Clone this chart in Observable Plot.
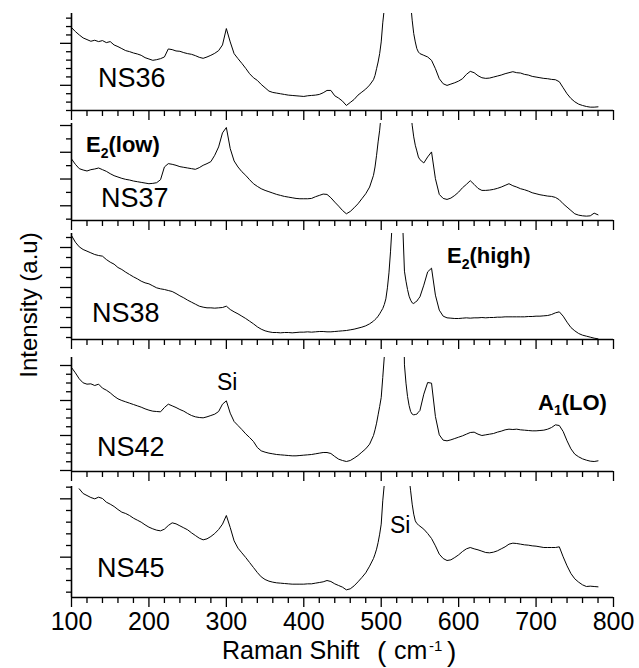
<!DOCTYPE html>
<html>
<head>
<meta charset="utf-8">
<script src="https://cdn.jsdelivr.net/npm/d3@7"></script>
<script src="https://cdn.jsdelivr.net/npm/@observablehq/plot@0.6"></script>
<style>
  html, body { margin: 0; padding: 0; background: #fff; }
  #chart { position: relative; width: 639px; height: 668px; overflow: hidden; }
  #chart svg { position: absolute; left: 0; }
</style>
</head>
<body>
<div id="chart"></div>
<script>
// Raman shift sampling (cm^-1): coarse over the background, finer across the Si line at 520.
const shift = [...d3.range(100, 491, 5), ...d3.range(492, 549, 2), ...d3.range(550, 781, 5)];

// Intensities (arbitrary units), one array per sample, on the shift grid above.
const ns36 = [
  248, 236, 226, 217, 212, 207, 210, 206, 209, 203,
  206, 196, 191, 185, 179, 176, 172, 169, 165, 158,
  154, 150, 152, 155, 160, 184, 182, 178, 177, 173,
  170, 168, 164, 159, 156, 160, 165, 171, 179, 196,
  245, 205, 170, 155, 141, 126, 110, 98, 90, 78,
  68, 58, 54, 52, 50, 48, 46, 45, 44, 43,
  42, 44, 45, 46, 48, 53, 60, 60, 44, 37,
  28, 15, 24, 33, 46, 55, 64, 76, 92,
  105, 125, 145, 170, 205, 262, 305, 420, 540, 700,
  900, 1150, 1400, 1600, 1700, 1650, 1450, 1200, 950, 750,
  600, 480, 390, 320, 270, 230, 205, 185, 175,
  170, 165, 160, 150, 125, 95, 80, 75, 79, 83,
  88, 95, 108, 117, 113, 104, 98, 96, 97, 100,
  103, 106, 110, 113, 116, 113, 112, 108, 106, 102,
  100, 98, 96, 95, 93, 92, 86, 68, 50, 36,
  26, 19, 15, 12, 10, 10, 11
];
const ns37 = [
  184, 168, 155, 151, 148, 152, 154, 157, 152, 147,
  140, 134, 130, 126, 123, 121, 118, 116, 114, 112,
  110, 111, 113, 122, 160, 170, 168, 165, 161, 159,
  157, 155, 153, 158, 165, 170, 176, 195, 220, 262,
  278, 215, 178, 160, 146, 135, 122, 110, 102, 95,
  90, 86, 82, 78, 75, 72, 70, 68, 66, 65,
  65, 65, 66, 71, 75, 79, 78, 68, 55, 43,
  30, 20, 27, 38, 50, 65, 80, 100, 135,
  160, 195, 235, 270, 320, 400, 500, 640, 800, 1000,
  1200, 1400, 1550, 1650, 1700, 1650, 1500, 1300, 1050, 850,
  650, 500, 390, 330, 285, 250, 225, 208, 190,
  182, 172, 190, 205, 125, 78, 66, 63, 67, 75,
  85, 98, 108, 119, 108, 96, 90, 90, 91, 93,
  96, 100, 105, 110, 104, 100, 95, 92, 88, 83,
  80, 77, 75, 73, 72, 69, 62, 50, 40, 30,
  20, 16, 14, 13, 14, 22, 17
];
const ns38 = [
  312, 292, 278, 270, 265, 260, 255, 252, 250, 240,
  232, 226, 216, 210, 202, 195, 188, 182, 175, 170,
  167, 161, 155, 152, 150, 147, 144, 138, 131, 125,
  118, 112, 106, 100, 97, 95, 95, 94, 95, 96,
  100, 90, 83, 77, 70, 63, 55, 47, 38, 31,
  26, 23, 21, 21, 20, 21, 21, 20, 21, 22,
  22, 23, 22, 23, 24, 24, 23, 23, 24, 25,
  26, 27, 29, 31, 34, 37, 41, 47, 55,
  60, 64, 70, 77, 85, 93, 105, 122, 155, 200,
  263, 340, 600, 1000, 1400, 1500, 1100, 600, 330, 205,
  175, 150, 130, 118, 110, 108, 112, 115, 122,
  128, 163, 203, 214, 133, 88, 70, 65, 64, 63,
  63, 64, 65, 64, 65, 65, 66, 65, 66, 66,
  67, 67, 68, 68, 68, 68, 68, 68, 69, 69,
  70, 70, 71, 72, 75, 80, 83, 70, 52, 36,
  26, 18, 13, 10, 7, 4, 2
];
const ns42 = [
  312, 296, 278, 266, 262, 263, 258, 262, 250, 244,
  236, 226, 218, 213, 209, 205, 201, 197, 193, 188,
  184, 181, 180, 179, 192, 202, 197, 192, 186, 181,
  174, 168, 164, 162, 161, 164, 168, 172, 180, 202,
  212, 175, 150, 138, 126, 113, 102, 90, 72, 62,
  58, 55, 53, 51, 50, 49, 48, 47, 47, 48,
  49, 50, 51, 53, 55, 57, 57, 54, 45, 37,
  33, 30, 33, 40, 48, 58, 68, 82, 108,
  125, 145, 170, 195, 222, 282, 345, 450, 600, 800,
  1000, 1200, 1350, 1450, 1500, 1450, 1200, 900, 600, 320,
  265, 225, 198, 180, 172, 170, 171, 172, 178,
  183, 232, 267, 265, 165, 110, 94, 92, 95, 99,
  103, 107, 112, 117, 118, 112, 108, 110, 112, 114,
  118, 121, 125, 127, 126, 127, 125, 124, 123, 122,
  122, 123, 124, 127, 132, 140, 138, 120, 92, 68,
  52, 44, 38, 34, 31, 30, 32
];
const ns45 = [
  null, null, 326, 312, 306, 300, 296, 301, 297, 286,
  280, 273, 264, 256, 252, 246, 238, 232, 226, 218,
  211, 206, 202, 200, 205, 216, 224, 221, 215, 209,
  203, 194, 186, 178, 173, 176, 183, 192, 204, 220,
  246, 210, 170, 148, 134, 120, 105, 90, 75, 62,
  54, 49, 46, 44, 43, 42, 41, 40, 40, 40,
  40, 41, 41, 43, 45, 47, 51, 48, 41, 36,
  31, 23, 26, 35, 47, 60, 74, 94, 117,
  130, 145, 165, 190, 220, 290, 340, 450, 600, 800,
  1000, 1200, 1350, 1450, 1500, 1450, 1300, 1100, 900, 700,
  550, 440, 360, 320, 280, 250, 230, 222, 218,
  214, 205, 192, 177, 155, 130, 117, 111, 113, 120,
  128, 138, 146, 150, 146, 143, 139, 135, 134, 136,
  140, 146, 152, 160, 163, 162, 160, 158, 157, 155,
  154, 152, 150, 150, 150, 150, 152, 122, 95, 72,
  56, 46, 38, 33, 34, 33, 32
];

const sampleNames = ["NS36", "NS37", "NS38", "NS42", "NS45"];
const shiftTicks = [100, 200, 300, 400, 500, 600, 700, 800];

// Panel layout: vertical placement, intensity range and left-axis tick spacing.
const panels = [
  {values: ns36, top: 13,  bottom: 110, vmax: 290, tick0: 0,  step: 25.1,  n: 12, major: k => k % 5 === 3, label: [98, 87]},
  {values: ns37, top: 123, bottom: 220, vmax: 290, tick0: 4,  step: 40,    n: 8,  major: k => k % 2 === 1, label: [101, 207]},
  {values: ns38, top: 233, bottom: 339, vmax: 318, tick0: 6,  step: 30,    n: 11, major: k => k % 2 === 1, label: [92, 322]},
  {values: ns42, top: 357, bottom: 471, vmax: 342, tick0: 3,  step: 26.25, n: 13, major: k => k % 4 === 0, label: [97, 456]},
  {values: ns45, top: 486, bottom: 597, vmax: 333, tick0: 16, step: 35,    n: 10, major: k => k % 5 === 3, label: [97, 577]}
];

const font = '"Liberation Sans", Arial, sans-serif';
const chart = document.getElementById("chart");
const minorShift = d3.range(100, 801, 20).filter(d => d % 100 !== 0);

panels.forEach((p, i) => {
  const last = i === panels.length - 1;
  const mt = 6, mb = last ? 48 : 14;
  const rows = shift.map((s, j) => ({shift: s, intensity: p.values[j]}));
  const yt = d3.range(p.n).map(k => p.tick0 + k * p.step);
  const yMinor = yt.filter((_, k) => !p.major(k));
  const yMajor = yt.filter((_, k) => p.major(k));
  const svg = Plot.plot({
    width: 639,
    height: mt + (p.bottom - p.top) + mb,
    marginTop: mt, marginBottom: mb, marginLeft: 71, marginRight: 26,
    style: {background: "transparent", overflow: "visible", fontFamily: font, color: "#000"},
    x: {domain: [100, 800], label: null},
    y: {domain: [0, p.vmax], label: null},
    marks: [
      Plot.axisY({ticks: yMinor, tickSize: 5, tickFormat: () => "", label: null, strokeWidth: 1.3}),
      Plot.axisY({ticks: yMajor, tickSize: 11, tickFormat: () => "", label: null, strokeWidth: 1.3}),
      Plot.axisX({ticks: minorShift, tickSize: 6, tickFormat: () => "", label: null, strokeWidth: 1.3}),
      Plot.axisX({ticks: shiftTicks, tickSize: 10, tickPadding: 5, fontSize: 25,
                  tickFormat: last ? d => String(d) : () => "", label: null, strokeWidth: 1.3}),
      Plot.ruleX([100], {strokeWidth: 1.6}),
      Plot.ruleY([0], {strokeWidth: 1.6}),
      Plot.line(rows, {x: "shift", y: "intensity", stroke: "#000", strokeWidth: 1, clip: true})
    ]
  });
  svg.style.top = (p.top - mt) + "px";
  chart.appendChild(svg);
});

// Text layer: sample names, mode assignments and axis titles.
const ov = d3.select(chart).append("svg")
  .attr("width", 639).attr("height", 668)
  .style("top", "0px").style("pointer-events", "none")
  .attr("font-family", font);

function label(parts, x, y, size, weight = "normal") {
  const t = ov.append("text").attr("x", x).attr("y", y)
    .attr("font-size", size).attr("font-weight", weight).attr("fill", "#000");
  parts.forEach(pt => {
    const s = t.append("tspan").text(pt.t);
    if (pt.size) s.attr("font-size", pt.size);
    if (pt.dy) s.attr("dy", pt.dy);
    if (pt.x != null) s.attr("x", pt.x);
  });
  return t;
}

panels.forEach((p, i) => label([{t: sampleNames[i]}], p.label[0], p.label[1], 27));

label([{t: "E"}, {t: "2", size: 14, dy: 6}, {t: "(low)", dy: -6}], 86, 152, 22, "bold");
label([{t: "E"}, {t: "2", size: 14, dy: 6}, {t: "(high)", dy: -6}], 447, 263, 22, "bold");
label([{t: "A"}, {t: "1", size: 14, dy: 5}, {t: "(LO)", dy: -5}], 538, 410, 22, "bold");
label([{t: "Si"}], 217, 390, 23);
label([{t: "Si"}], 390, 533, 23);

label([
  {t: "Raman Shift"},
  {t: "(", size: 28, x: 377, dy: 2},
  {t: "cm", x: 394, dy: -2},
  {t: "-1", size: 15, x: 429, dy: -8},
  {t: ")", size: 28, x: 447, dy: 10}
], 222, 659, 25);

ov.append("text")
  .attr("transform", "translate(37,305) rotate(-90)")
  .attr("text-anchor", "middle")
  .attr("font-size", 24)
  .attr("fill", "#000")
  .text("Intensity (a.u)");
</script>
</body>
</html>
